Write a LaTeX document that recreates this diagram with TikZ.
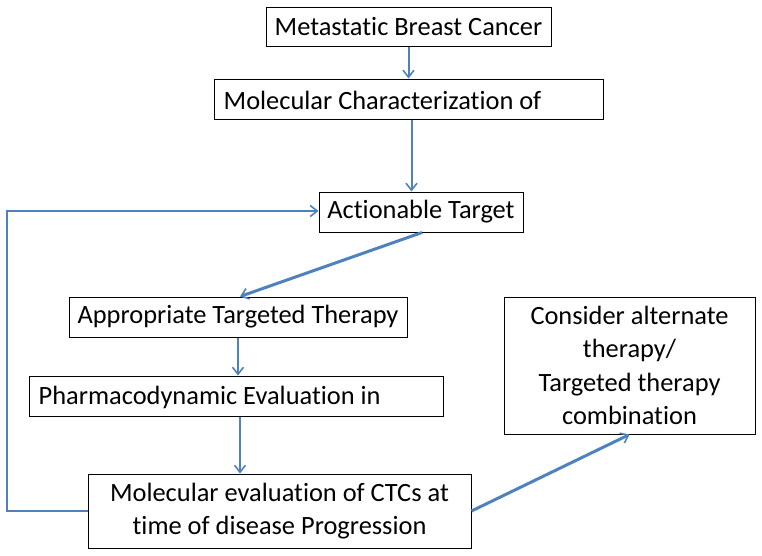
\documentclass[tikz,border=0pt]{standalone}
\usepackage{fontspec}
\setmainfont[Ligatures=NoCommon]{Carlito}
\usetikzlibrary{arrows.meta,positioning}
\definecolor{arr}{HTML}{4F81BD}
\begin{document}
\begin{tikzpicture}[x=1pt,y=-1pt,
  box/.style={draw=black,line width=1pt,rectangle,inner sep=0pt,font=\fontsize{26.4}{32.5}\selectfont},
  txt/.style={inner sep=0pt,anchor=west,font=\fontsize{26.4}{32.5}\selectfont},
  conn/.style={draw=arr,line width=2pt,-{Straight Barb[length=7pt,width=11pt,line width=1.6pt]}},
  thick conn/.style={conn,line width=3pt}]
\useasboundingbox (0,0) rectangle (762,555);
\node[box,minimum width=285pt,minimum height=39pt] (b1) at (408.5,26.5) {Metastatic Breast Cancer};
\node[box,minimum width=389pt,minimum height=40pt] (b2) at (408.5,99) {};
\node[txt] (b2t) at ([xshift=10pt,yshift=-1pt]b2.west) {Molecular Characterization of};
\node[box,minimum width=204pt,minimum height=40pt] (b3) at (421,212) {Actionable Target};
\node[box,minimum width=338pt,minimum height=40pt] (b4) at (238,317) {Appropriate Targeted Therapy};
\node[box,minimum width=414pt,minimum height=40pt] (b5) at (236,396) {};
\node[txt] (b5t) at ([xshift=10pt,yshift=-1pt]b5.west) {Pharmacodynamic Evaluation in};
\node[box,minimum width=383pt,minimum height=74pt,align=center] (b6) at (279.5,511) {Molecular evaluation of CTCs at\\time of disease Progression};
\node[box,minimum width=251pt,minimum height=137pt,align=center,font=\fontsize{26.4}{33.5}\selectfont] (b7) at (629.5,365.5) {Consider alternate\\therapy/\\Targeted therapy\\combination};
\coordinate (c1) at (7,511);
\coordinate (c2) at (7,211);
\draw[conn] (b1.south) -- (b2.north);
\draw[conn] ([xshift=3pt]b2.south) -- ([xshift=3pt]b2.south |- b3.north);
\draw[thick conn] ([xshift=1pt]b3.south) -- ([xshift=2pt]b4.north);
\draw[conn] (b4.south) -- (b4.south |- b5.north);
\draw[conn] ([xshift=4pt]b5.south) -- ([xshift=4pt]b5.south |- b6.north);
\draw[conn] (b6.west) -- (c1) -- (c2) -- (b3.west |- c2);
\draw[thick conn] (b6.east) -- (b7.south);
\end{tikzpicture}
\end{document}
